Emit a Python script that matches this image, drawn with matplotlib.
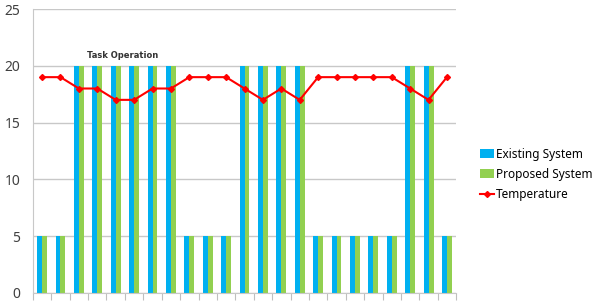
#!/usr/bin/env python3
"""Existing vs proposed system bars with temperature line."""

import numpy as np
import matplotlib
matplotlib.use("Agg")
import matplotlib.pyplot as plt

existing = [5, 5, 20, 20, 20, 20, 20, 20, 5, 5, 5, 20, 20, 20, 20,
            5, 5, 5, 5, 5, 20, 20, 5]
proposed = [5, 5, 20, 20, 20, 20, 20, 20, 5, 5, 5, 20, 20, 20, 20,
            5, 5, 5, 5, 5, 20, 20, 5]
temperature = [19, 19, 18, 18, 17, 17, 18, 18, 19, 19, 19, 18, 17, 18, 17,
               19, 19, 19, 19, 19, 18, 17, 19]
y_ticks = [0, 5, 10, 15, 20, 25]

plt.rcParams["font.family"] = ["Noto Sans", "DejaVu Sans"]

fig = plt.figure(figsize=(6.09, 3.01), dpi=100)
ax = fig.add_axes([0.054, 0.027, 0.695, 0.943])

x = np.arange(len(existing))
w = 0.27
b1 = ax.bar(x - w / 2, existing, w, color="#00B0F0", label="Existing System", zorder=2)
b2 = ax.bar(x + w / 2, proposed, w, color="#92D050", label="Proposed System", zorder=2)
ln, = ax.plot(x, temperature, color="#FF0000", marker="D", markersize=3,
              linewidth=1.5, label="Temperature", zorder=3)

ax.text(4.4, 20.5, "Task Operation", fontsize=6, fontweight="bold",
        family="DejaVu Sans", ha="center", va="bottom", color="#333333")

ax.set_xlim(-0.5, len(existing) - 0.5)
ax.set_ylim(0, 25)
ax.set_yticks(y_ticks)
ax.tick_params(axis="y", length=0, labelsize=10, labelcolor="#404040", pad=9)
ax.set_xticks(np.arange(len(existing) + 1) - 0.5)
ax.set_xticklabels([])
ax.tick_params(axis="x", length=5, color="#BFBFBF", direction="out")
ax.grid(axis="y", color="#C8C8C8", linewidth=1, zorder=0)
for side in ["top", "right"]:
    ax.spines[side].set_visible(False)
ax.spines["left"].set_color("#C8C8C8")
ax.spines["bottom"].set_color("#C8C8C8")

fig.legend(handles=[b1, b2, ln], loc="upper left", bbox_to_anchor=(0.77, 0.545),
           frameon=False, fontsize=8.5, handlelength=1.2, handletextpad=0.2,
           labelspacing=0.6)

fig.savefig("out.png", dpi=100)
